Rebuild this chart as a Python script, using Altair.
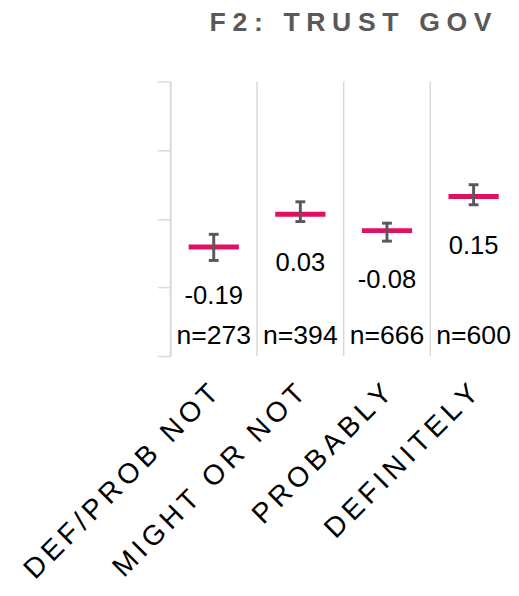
import altair as alt
import pandas as pd

categories = ["DEF/PROB NOT", "MIGHT OR NOT", "PROBABLY", "DEFINITELY"]
means = [-0.19, 0.03, -0.08, 0.15]
ci_low = [-0.281, -0.019, -0.151, 0.094]
ci_high = [-0.105, 0.114, -0.030, 0.229]
counts = [273, 394, 666, 600]
y_domain = [-0.925, 0.925]
y_ticks = [-0.925, -0.4625, 0.0, 0.4625, 0.925]
title_text = "F2: TRUST GOV"

FONT = "Liberation Sans"
GRID = "#d9d9d9"
PINK = "#E0115F"
DARK = "#595959"


def spaced(s, sep):
    """Letter-spaced rendering of a label (narrow spaces between characters)."""
    return sep.join(list(s))


spaced_categories = [spaced(c, "\u2006") for c in categories]

df = pd.DataFrame({
    "cat": spaced_categories,
    "mean": means,
    "lo": ci_low,
    "hi": ci_high,
    "n": counts,
})
df["mean_label"] = [f"{m:.2f}" for m in means]
df["n_label"] = [f"n={n}" for n in counts]

spaced_title = spaced(title_text, "\u2005")

xscale = alt.Scale(domain=spaced_categories, paddingInner=0, paddingOuter=0)
yscale = alt.Scale(domain=y_domain, nice=False, zero=False)

x_axis = alt.Axis(labelAngle=-45, labelAlign="right", labelBaseline="middle",
                  labelFontSize=28.5, labelFont=FONT, labelColor="#000000",
                  domain=False, ticks=False, grid=False, labelPadding=33,
                  labelOverlap=False, labelBound=False, labelLimit=600)
x_main = alt.X("cat:N", sort=spaced_categories, title=None, scale=xscale, axis=x_axis)

base = alt.Chart(df)

grid = base.mark_rule(color=GRID, strokeWidth=1.5).encode(
    x=alt.X("cat:N", sort=spaced_categories, title=None, scale=xscale, axis=x_axis,
            bandPosition=0)
)

y_axis = alt.Axis(values=y_ticks, labels=False, grid=False,
                  domainColor=GRID, tickColor=GRID, tickSize=13,
                  domainWidth=1.5, tickWidth=1.5)

mean_tick = base.mark_tick(orient="horizontal", size=51, thickness=5, color=PINK,
                           opacity=1).encode(
    x=x_main,
    y=alt.Y("mean:Q", scale=yscale, title=None, axis=y_axis),
)

stem = base.mark_rule(color=DARK, strokeWidth=3, opacity=1).encode(
    x=x_main,
    y=alt.Y("lo:Q", scale=yscale, title=None, axis=y_axis),
    y2="hi:Q",
)
cap_lo = base.mark_tick(orient="horizontal", size=10, thickness=3, color=DARK,
                        opacity=1).encode(
    x=x_main, y=alt.Y("lo:Q", scale=yscale, title=None, axis=y_axis)
)
cap_hi = base.mark_tick(orient="horizontal", size=10, thickness=3, color=DARK,
                        opacity=1).encode(
    x=x_main, y=alt.Y("hi:Q", scale=yscale, title=None, axis=y_axis)
)

mean_text = base.mark_text(font=FONT, fontSize=26, baseline="alphabetic", dy=58,
                           color="#000000").encode(
    x=x_main, y=alt.Y("mean:Q", scale=yscale, title=None, axis=y_axis),
    text="mean_label:N"
)
n_text = base.mark_text(font=FONT, fontSize=27, baseline="alphabetic", dy=-12,
                        color="#000000").encode(
    x=x_main, y=alt.datum(y_domain[0], scale=yscale, title=None, axis=y_axis),
    text="n_label:N"
)

chart = alt.layer(grid, mean_tick, stem, cap_lo, cap_hi, mean_text, n_text).properties(
    width=352,
    height=279,
    autosize=alt.AutoSizeParams(type="none"),
    padding={"left": 165, "top": 70, "right": -6, "bottom": 226},
    title=alt.TitleParams(text=spaced_title, font=FONT, fontSize=27, fontWeight="bold",
                          color=DARK, anchor="middle", offset=44, dx=7),
).configure_view(stroke=None)

chart.save("out.html", embed_options={"renderer": "svg", "actions": False})
